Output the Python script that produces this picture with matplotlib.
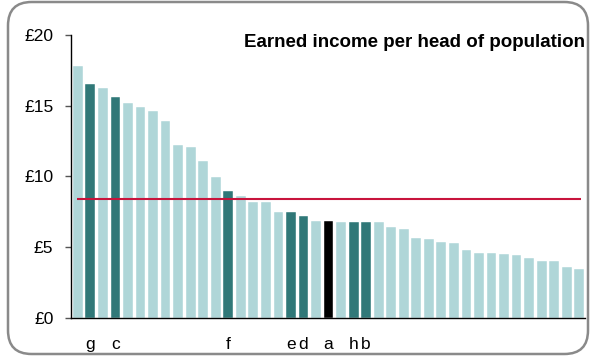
import matplotlib.pyplot as plt
from matplotlib.patches import FancyBboxPatch

plt.rcParams['font.family'] = ['Liberation Sans', 'DejaVu Sans']

# earned income per head (GBP), sorted high to low
values = [17.8, 16.5, 16.25, 15.65, 15.2, 14.9, 14.6, 13.9, 12.25, 12.1,
          11.1, 9.95, 8.95, 8.6, 8.2, 8.2, 7.5, 7.5, 7.2, 6.85,
          6.85, 6.8, 6.8, 6.8, 6.75, 6.4, 6.3, 5.65, 5.55, 5.4,
          5.3, 4.8, 4.6, 4.6, 4.5, 4.45, 4.25, 4.0, 4.0, 3.6, 3.45]
# highlighted areas: bar index -> label
highlight = {1: 'g', 3: 'c', 12: 'f', 17: 'e', 18: 'd', 20: 'a', 22: 'h', 23: 'b'}
average = 8.4

light = '#afd6d8'
dark = '#307878'

colors = []
for i in range(len(values)):
    if highlight.get(i) == 'a':
        colors.append('black')
    elif i in highlight:
        colors.append(dark)
    else:
        colors.append(light)

fig = plt.figure(figsize=(5.9, 3.62), dpi=100)
ax = fig.add_axes([0.120, 0.1215, 0.872, 0.782])

x = list(range(len(values)))
ax.bar(x, values, width=0.78, color=colors, edgecolor='white', linewidth=0.3, zorder=2)
ax.hlines(average, -0.1, len(values) - 0.9, color='#c8143c', linewidth=1.5, zorder=3)

ax.set_xlim(-0.56, len(values) - 0.52)
ax.set_ylim(0, 20)
ax.set_yticks([0, 5, 10, 15, 20])
ax.set_yticklabels(['£0', '£5', '£10', '£15', '£20'], fontsize=12.5)
ax.tick_params(axis='y', length=4.5, width=1, color='#555555', pad=8)

ax.set_xticks(list(highlight.keys()))
ax.set_xticklabels(list(highlight.values()), fontsize=12.5)
ax.tick_params(axis='x', length=0, pad=13.5)

for s in ['top', 'right']:
    ax.spines[s].set_visible(False)
ax.spines['left'].set_linewidth(1)
ax.spines['bottom'].set_linewidth(1)

fig.text(0.992, 1 - 46.7 / 362, 'Earned income per head of population',
         ha='right', va='baseline', fontsize=13.5, fontweight='bold')

frame = FancyBboxPatch((8 / 590, 8 / 362), 580 / 590, 352 / 362,
                       boxstyle='round,pad=0,rounding_size=0.04',
                       transform=fig.transFigure, facecolor='none',
                       edgecolor='#8a8a8a', linewidth=1.8, mutation_aspect=590 / 362)
fig.patches.append(frame)

fig.savefig('out.png', dpi=100)
